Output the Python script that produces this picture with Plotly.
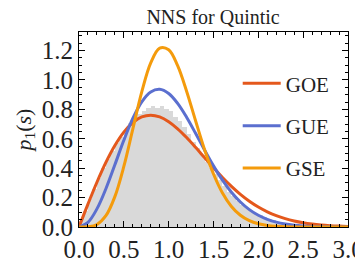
import plotly.graph_objects as go

# Histogram (bin centers, heights)
hist_centers = [round(0.025 + 0.05 * i, 3) for i in range(60)]
hist_values = [0.04, 0.11, 0.19, 0.26, 0.33, 0.40, 0.46, 0.52, 0.57, 0.61,
               0.66, 0.71, 0.73, 0.77, 0.79, 0.81, 0.82, 0.81, 0.82, 0.80,
               0.79, 0.75, 0.72, 0.68, 0.63, 0.58, 0.54, 0.49, 0.44, 0.40,
               0.36, 0.32, 0.28, 0.24, 0.21, 0.18, 0.15, 0.13, 0.11, 0.09,
               0.08, 0.065, 0.055, 0.045, 0.035, 0.03, 0.025, 0.02, 0.015, 0.012,
               0.01, 0.008, 0.006, 0.004, 0.003, 0.002, 0.002, 0.001, 0.001, 0.001]

s_vals = [round(0.1 * i, 1) for i in range(31)]
goe = [0.0, 0.15585, 0.30444, 0.43908, 0.55412, 0.64538, 0.71036, 0.74832, 0.76019, 0.74833,
       0.71619, 0.66803, 0.60831, 0.54155, 0.47176, 0.40251, 0.33653, 0.27593, 0.22198, 0.17522,
       0.13576, 0.10332, 0.07721, 0.05668, 0.04088, 0.02900, 0.02020, 0.01383, 0.00931, 0.00617,
       0.00401]
gue = [0.0, 0.03201, 0.12325, 0.26021, 0.42316, 0.58959, 0.73808, 0.85135, 0.91863, 0.93636,
       0.90758, 0.84054, 0.74646, 0.63715, 0.52396, 0.41575, 0.31881, 0.23641, 0.16976, 0.11807,
       0.07963, 0.05209, 0.03306, 0.02038, 0.01219, 0.00709, 0.00401, 0.00220, 0.00117, 0.00061,
       0.00031]
gse = [0.0, 0.00113, 0.01695, 0.07662, 0.20668, 0.41158, 0.66536, 0.91848, 1.11580, 1.21649,
       1.20585, 1.09737, 0.92366, 0.72240, 0.52721, 0.36048, 0.23128, 0.13977, 0.07953, 0.04274,
       0.02171, 0.01042, 0.00474, 0.00205, 0.00084, 0.00033, 0.00012, 0.00004, 0.00001, 0.0,
       0.0]

x_ticks = [0.0, 0.5, 1.0, 1.5, 2.0, 2.5, 3.0]
y_ticks = [0.0, 0.2, 0.4, 0.6, 0.8, 1.0, 1.2]

FONT = "Liberation Serif"
fig = go.Figure()
fig.add_trace(go.Bar(x=hist_centers, y=hist_values, width=0.05,
                     marker=dict(color="#d9d9d9", line=dict(width=0)),
                     showlegend=False, hoverinfo="skip"))
for name, ys, col in [("GOE", goe, "#e4581c"), ("GUE", gue, "#5b6fcf"), ("GSE", gse, "#f49b0c")]:
    fig.add_trace(go.Scatter(x=s_vals, y=ys, mode="lines", name=name, legendgroup=name,
                             line=dict(color=col, width=3, shape="spline", smoothing=1.0)))

axis_common = dict(showline=True, linecolor="black", linewidth=1, mirror="ticks",
                   ticks="inside", ticklen=6, tickcolor="black", tickwidth=1,
                   showgrid=False, zeroline=False, automargin=False,
                   tickfont=dict(family=FONT, size=25, color="#222"))
fig.update_xaxes(range=[0, 3.0], tickvals=x_ticks, ticktext=[f"{v:.1f}" for v in x_ticks],
                 minor=dict(dtick=0.1, ticks="inside", ticklen=3, tickcolor="black"),
                 **axis_common)
fig.update_yaxes(range=[0, 1.326], tickvals=y_ticks, ticktext=[f"{v:.1f}" for v in y_ticks],
                 minor=dict(dtick=0.05, ticks="inside", ticklen=3, tickcolor="black"),
                 title=dict(text="<i>p</i><sub>1</sub>(<i>s</i>)", font=dict(family=FONT, size=22, color="#222"),
                            standoff=4),
                 **axis_common)
fig.update_layout(
    width=363, height=259,
    margin=dict(l=71, r=23, t=24, b=40),
    paper_bgcolor="white", plot_bgcolor="white",
    bargap=0,
    title=dict(text="NNS for Quintic", x=0.565, xanchor="center", y=0.965, yanchor="middle",
               font=dict(family=FONT, size=20, color="#222")),
    legend=dict(x=0.59, y=0.84, xanchor="left", yanchor="top", bgcolor="rgba(0,0,0,0)",
                font=dict(family=FONT, size=21, color="#222"), tracegroupgap=12,
                itemwidth=38),
)
fig.write_html("out.html")
